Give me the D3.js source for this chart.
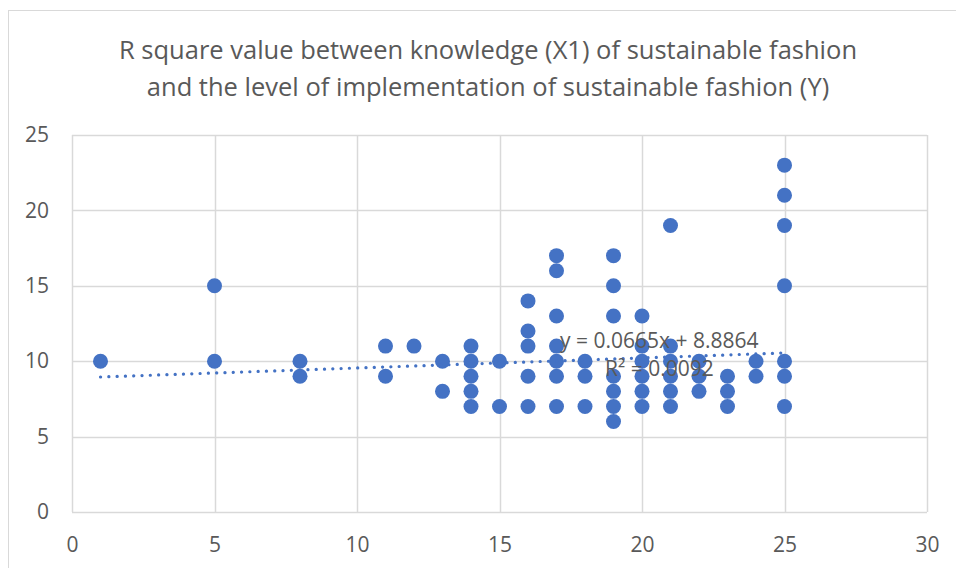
<!DOCTYPE html>
<html>
<head>
<meta charset="utf-8">
<script src="https://cdn.jsdelivr.net/npm/d3@7"></script>
<style>
  body { margin: 0; background: #fff; }
  text { font-family: "Open Sans", sans-serif; fill: #595959; }
</style>
</head>
<body>
<div id="chart"></div>
<script>
// knowledge score (X1) and implementation score (Y), one entry per visible point
const knowledge = [
  1,
  5, 5,
  8, 8,
  11, 11,
  12,
  13, 13,
  14, 14, 14, 14, 14,
  15, 15,
  16, 16, 16, 16, 16,
  17, 17, 17, 17, 17, 17, 17,
  18, 18, 18,
  19, 19, 19, 19, 19, 19, 19,
  20, 20, 20, 20, 20, 20,
  21, 21, 21, 21, 21, 21,
  22, 22, 22,
  23, 23, 23,
  24, 24,
  25, 25, 25, 25, 25, 25, 25
];
const implementation = [
  10,
  15, 10,
  10, 9,
  11, 9,
  11,
  10, 8,
  11, 10, 9, 8, 7,
  10, 7,
  14, 12, 11, 9, 7,
  17, 16, 13, 11, 10, 9, 7,
  10, 9, 7,
  17, 15, 13, 9, 8, 7, 6,
  13, 11, 10, 9, 8, 7,
  19, 11, 10, 9, 8, 7,
  10, 9, 8,
  9, 8, 7,
  10, 9,
  23, 21, 19, 15, 10, 9, 7
];
const xTicks = [0, 5, 10, 15, 20, 25, 30];
const yTicks = [0, 5, 10, 15, 20, 25];
const trendSlope = 0.0665;
const trendIntercept = 8.8864;
const rSquared = 0.0092;
const titleLines = [
  "R square value between knowledge (X1) of sustainable fashion",
  "and the level of implementation of sustainable fashion (Y)"
];

const W = 956, H = 568;
const margin = {top: 135, right: 29, bottom: 56, left: 72};
const width = W - margin.left - margin.right;
const height = H - margin.top - margin.bottom;
const blue = "#4472C4";

const root = d3.select("#chart").append("svg")
    .attr("width", W)
    .attr("height", H);

// outer chart border
root.append("rect")
    .attr("x", 8.5).attr("y", 10.5)
    .attr("width", W).attr("height", H)
    .attr("fill", "none")
    .attr("stroke", "#d9d9d9");

root.selectAll(".title")
    .data(titleLines)
    .join("text")
    .attr("class", "title")
    .attr("x", 488)
    .attr("y", (d, i) => 59 + i * 37)
    .attr("text-anchor", "middle")
    .attr("font-size", 25.5)
    .text(d => d);

const svg = root.append("g")
    .attr("transform", `translate(${margin.left},${margin.top})`);

const xScale = d3.scaleLinear().domain([0, 30]).range([0, width]);
const yScale = d3.scaleLinear().domain([0, 25]).range([height, 0]);

// gridlines
svg.append("g")
    .selectAll("line")
    .data(yTicks)
    .join("line")
    .attr("x1", 0).attr("x2", width)
    .attr("y1", d => Math.round(yScale(d)) + 0.5)
    .attr("y2", d => Math.round(yScale(d)) + 0.5)
    .attr("stroke", "#d9d9d9")
    .attr("stroke-width", 1.5);

svg.append("g")
    .selectAll("line")
    .data(xTicks)
    .join("line")
    .attr("y1", 0).attr("y2", height)
    .attr("x1", d => Math.round(xScale(d)) + 0.5)
    .attr("x2", d => Math.round(xScale(d)) + 0.5)
    .attr("stroke", "#d9d9d9")
    .attr("stroke-width", 1.5);

// axes (labels only)
const xAxis = svg.append("g")
    .attr("transform", `translate(0,${height})`)
    .call(d3.axisBottom(xScale).tickValues(xTicks).tickSize(0).tickPadding(25));
const yAxis = svg.append("g")
    .call(d3.axisLeft(yScale).tickValues(yTicks).tickSize(0).tickPadding(23));

[xAxis, yAxis].forEach(a => {
    a.select(".domain").remove();
    a.selectAll("text")
        .attr("font-family", "Open Sans, sans-serif")
        .attr("font-size", 21)
        .attr("fill", "#595959");
});

// points
svg.append("g")
    .selectAll("circle")
    .data(knowledge.map((k, i) => ({x: k, y: implementation[i]})))
    .join("circle")
    .attr("cx", d => xScale(d.x))
    .attr("cy", d => yScale(d.y))
    .attr("r", 7.5)
    .attr("fill", blue);

// linear trendline
const xMin = d3.min(knowledge), xMax = d3.max(knowledge);
const trend = [xMin, xMax].map(x => ({x: x, y: trendSlope * x + trendIntercept}));
svg.append("path")
    .datum(trend)
    .attr("fill", "none")
    .attr("stroke", blue)
    .attr("stroke-width", 3.2)
    .attr("stroke-linecap", "round")
    .attr("stroke-dasharray", "0.1 8.2")
    .attr("d", d3.line().x(d => xScale(d.x)).y(d => yScale(d.y)));

// equation label
svg.append("text")
    .attr("x", 488)
    .attr("y", 213)
    .attr("font-size", 21)
    .text(`y = ${trendSlope}x + ${trendIntercept}`);
svg.append("text")
    .attr("x", 533)
    .attr("y", 241)
    .attr("font-size", 21)
    .text(`R² = ${rSquared}`);
</script>
</body>
</html>
